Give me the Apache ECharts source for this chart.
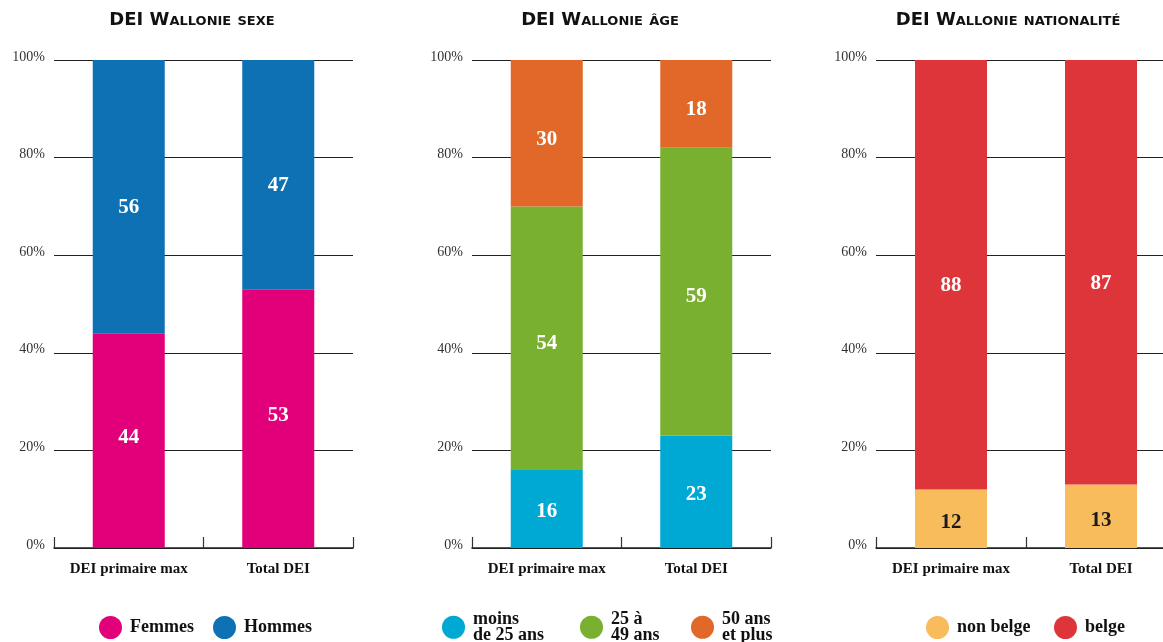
<!DOCTYPE html>
<html>
<head>
<meta charset="utf-8">
<script src="https://cdn.jsdelivr.net/npm/echarts@6/dist/echarts.min.js"></script>
<style>
  html, body { margin: 0; padding: 0; background: #fff; }
  #chart { width: 1163px; height: 642px; }
</style>
</head>
<body>
<div id="chart"></div>
<script>
// Categories shared by the three panels
const categories = ['DEI primaire max', 'Total DEI'];

// Panel titles
const panelTitles = ['DEI Wallonie sexe', 'DEI Wallonie âge', 'DEI Wallonie nationalité'];

// Sex breakdown (%)
const femmes = [44, 53];
const hommes = [56, 47];

// Age breakdown (%)
const moins25 = [16, 23];
const de25a49 = [54, 59];
const plus50 = [30, 18];

// Nationality breakdown (%)
const nonBelge = [12, 13];
const belge = [88, 87];

// Percentage axis
const yMin = 0, yMax = 100, yStep = 20;

const SERIF = '"Liberation Serif", "DejaVu Serif", serif';

// Panel geometry: left edge and width of each plot area
const panels = [
  { left: 54, width: 299, titleX: 192 },
  { left: 472, width: 299, titleX: 600 },
  { left: 876, width: 300, titleX: 1008 }
];

// Series definitions per panel: [name, legend text, data, colour, label colour, label shift]
const panelSeries = [
  [
    ['Femmes', 'Femmes', femmes, '#E2007A', '#fff', -3],
    ['Hommes', 'Hommes', hommes, '#0E71B4', '#fff', 11]
  ],
  [
    ['moins de 25 ans', 'moins\nde 25 ans', moins25, '#00A8D4', '#fff', 3],
    ['25 à 49 ans', '25 à\n49 ans', de25a49, '#7AB030', '#fff', 5],
    ['50 ans et plus', '50 ans\net plus', plus50, '#E2682A', '#fff', 6]
  ],
  [
    ['non belge', 'non belge', nonBelge, '#F8BC5C', '#1a1a1a', 4],
    ['belge', 'belge', belge, '#DE353A', '#fff', 11]
  ]
];

// Legend item placement (icon left edge x, top y)
const legendSpots = [
  [[99, 616], [213, 616]],
  [[442, 610], [580, 610], [691, 610]],
  [[926, 616], [1054, 616]]
];

const legendText = {};
panelSeries.forEach(ps => ps.forEach(s => { legendText[s[0]] = s[1]; }));

const option = {
  animation: false,
  backgroundColor: '#fff',
  title: panelTitles.map((t, i) => ({
    text: t,
    left: panels[i].titleX,
    top: 11,
    padding: 0,
    textAlign: 'center',
    textStyle: {
      fontFamily: '"DejaVu Sans", sans-serif',
      fontStyle: 'small-caps',
      fontWeight: 'bold',
      fontSize: 18,
      color: '#111'
    }
  })),
  grid: panels.map(p => ({
    left: p.left, width: p.width, top: 60, height: 488,
    outerBoundsMode: 'none'
  })),
  xAxis: panels.map((p, i) => ({
    type: 'category',
    gridIndex: i,
    data: categories,
    axisLine: { lineStyle: { color: '#222', width: 1.6 } },
    axisTick: { show: true, inside: true, length: 11, interval: 0, lineStyle: { color: '#333', width: 1.2 } },
    axisLabel: {
      interval: 0,
      hideOverlap: false,
      margin: 14,
      fontFamily: SERIF,
      fontWeight: 'bold',
      fontSize: 15,
      color: '#111'
    }
  })),
  yAxis: panels.map((p, i) => ({
    type: 'value',
    gridIndex: i,
    min: yMin,
    max: yMax,
    interval: yStep,
    axisLine: { show: false },
    axisTick: { show: false },
    splitLine: { lineStyle: { color: '#222', width: 1.2 } },
    axisLabel: {
      formatter: '{value}%',
      margin: 9,
      fontFamily: SERIF,
      fontSize: 14,
      color: '#333',
      verticalAlign: 'bottom',
      lineHeight: 6
    }
  })),
  legend: [],
  series: []
};

panelSeries.forEach((ps, pi) => {
  ps.forEach((s, si) => {
    option.series.push({
      name: s[0],
      type: 'bar',
      stack: 'panel' + pi,
      xAxisIndex: pi,
      yAxisIndex: pi,
      barWidth: 72,
      data: s[2],
      itemStyle: { color: s[3] },
      label: {
        show: true,
        position: 'inside',
        offset: [0, s[5]],
        color: s[4],
        fontFamily: SERIF,
        fontWeight: 'bold',
        fontSize: 21
      }
    });
    const spot = legendSpots[pi][si];
    option.legend.push({
      data: [s[0]],
      left: spot[0],
      top: spot[1],
      padding: 0,
      icon: 'circle',
      itemWidth: 23,
      itemHeight: 23,
      selectedMode: false,
      formatter: name => legendText[name],
      textStyle: {
        fontFamily: SERIF,
        fontWeight: 'bold',
        fontSize: 18,
        lineHeight: 16.5,
        color: '#111',
        padding: [0, 0, 0, 3]
      }
    });
  });
});

const chart = echarts.init(document.getElementById('chart'), null, { renderer: 'canvas' });
chart.setOption(option);
</script>
</body>
</html>
